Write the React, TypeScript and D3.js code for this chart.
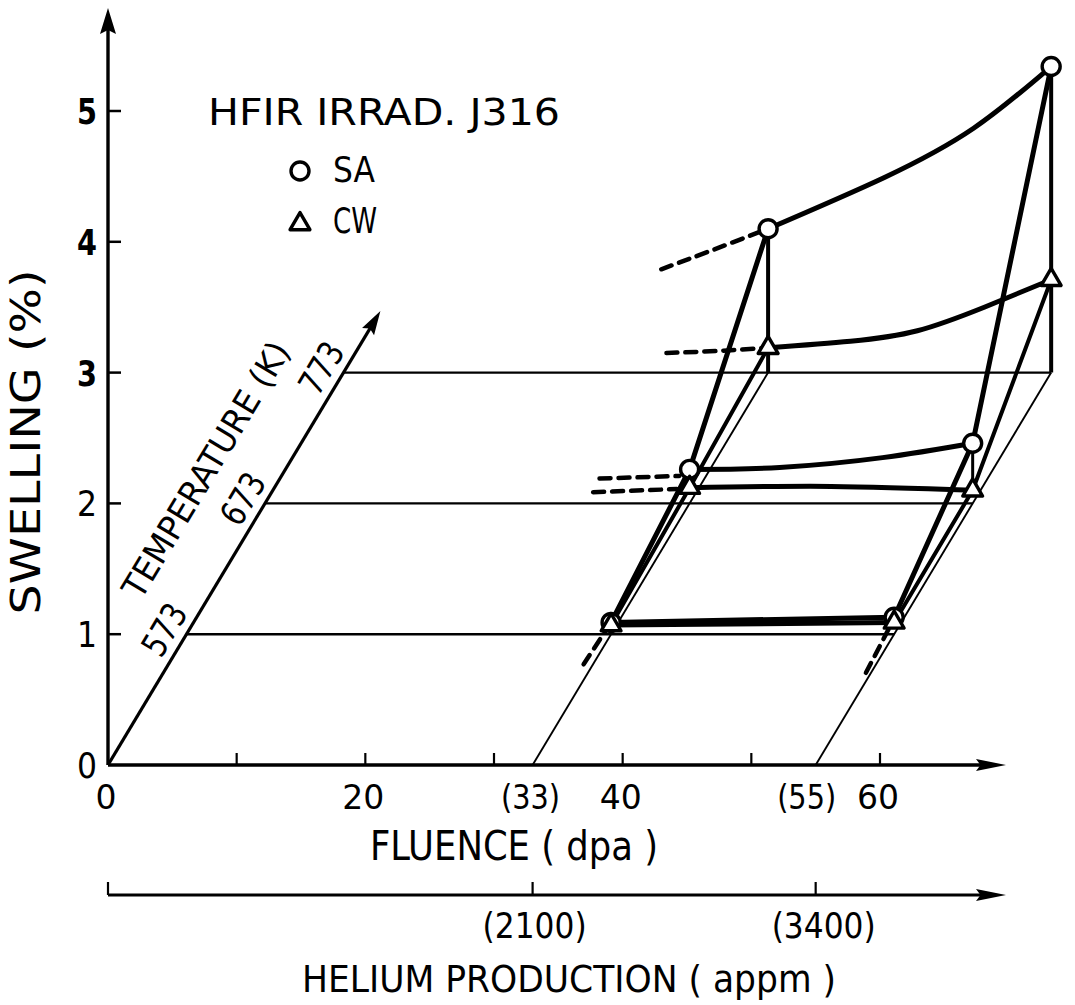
import React from 'react';
import * as d3 from 'd3';

const WIDTH = 1075;
const HEIGHT = 1005;

// axis ticks
const swellingTicks = [0, 1, 2, 3, 4, 5];
const fluenceTicks = [10, 20, 30, 40, 50, 60];
const fluenceLabelValues = [0, 20, 33, 40, 55, 60];
const fluenceLabels = ['0', '20', '(33)', '40', '(55)', '60'];
const temperatureTicks = [573, 673, 773];
const heliumLabels = ['(2100)', '(3400)'];
const heliumAtFluence = [33, 55];

// irradiation conditions
const temperatures = [573, 673, 773];
const fluences = [33, 55];

// swelling (%) above each temperature plane (573, 673, 773 K)
const saSwelling33 = [0.09, 0.26, 1.1];
const saSwelling55 = [0.13, 0.46, 2.34];
const cwSwelling33 = [0.07, 0.12, 0.19];
const cwSwelling55 = [0.09, 0.1, 0.71];

// trend curves along fluence at fixed temperature: [dpa, swelling %]
const saTrend573 = [[33, 0.09], [55, 0.13]];
const cwTrend573 = [[33, 0.07], [55, 0.09]];
const saTrend673 = [[33, 0.26], [40, 0.275], [48, 0.35], [55, 0.46]];
const cwTrend673 = [[33, 0.12], [44, 0.13], [55, 0.1]];
const saTrend773 = [[33, 1.1], [42, 1.49], [49, 1.87], [55, 2.34]];
const cwTrend773 = [[33, 0.19], [39.4, 0.24], [44.6, 0.32], [49.8, 0.5], [55, 0.71]];

// dashed extrapolations toward lower fluence: [dpa, swelling %]
const saExtrap673 = [[26, 0.19], [32.2, 0.21]];
const cwExtrap673 = [[25.5, 0.085], [32, 0.11]];
const saExtrap773 = [[24.7, 0.79], [28.5, 0.93], [33, 1.1]];
const cwExtrap773 = [[25.1, 0.15], [29, 0.165], [33, 0.19]];

// dashed extrapolations toward lower temperature: [K, swelling %]
const lowTempExtrap33 = [[538, 0.12], [573, 0.09]];
const lowTempExtrap55 = [[537, 0.065], [573, 0.12]];

const FONT = "'Liberation Sans Narrow', 'DejaVu Sans Condensed', 'DejaVu Sans', sans-serif";

// oblique projection: fluence to the right, temperature up-right, swelling up
const xFluence = d3.scaleLinear().domain([0, 60]).range([108, 880]);
const ySwelling = d3.scaleLinear().domain([0, 5]).range([765, 111]);
const tempDx = d3.scaleLinear().domain([473, 773]).range([0, 235.5]);
const tempDy = d3.scaleLinear().domain([473, 773]).range([0, -392.4]);

const proj = (dpa: number, T: number, s: number): [number, number] => [
  xFluence(dpa) + tempDx(T),
  ySwelling(s) + tempDy(T),
];

const fluenceLine = (T: number, pts: number[][], curve = d3.curveNatural) =>
  d3.line<number[]>()
    .x(d => proj(d[0], T, d[1])[0])
    .y(d => proj(d[0], T, d[1])[1])
    .curve(curve)(pts) || '';

const tempLine = (dpa: number, pts: number[][]) =>
  d3.line<number[]>()
    .x(d => proj(dpa, d[0], d[1])[0])
    .y(d => proj(dpa, d[0], d[1])[1])(pts) || '';

function arrowHead(tip: [number, number], from: [number, number], len: number, half: number) {
  const dx = tip[0] - from[0];
  const dy = tip[1] - from[1];
  const l = Math.hypot(dx, dy);
  const ux = dx / l, uy = dy / l;
  const bx = tip[0] - ux * len, by = tip[1] - uy * len;
  return `${tip[0]},${tip[1]} ${bx - uy * half},${by + ux * half} ${bx + ux * len * 0.15},${by + uy * len * 0.15} ${bx + uy * half},${by - ux * half}`;
}

// narrow lettering: digits ~21px, parentheses ~8.5px
const labelWidth = (s: string) =>
  s.split('').reduce((w, c) => w + (c === '(' || c === ')' ? 8.5 : 21), 0);

const triangle = d3.symbol().type(d3.symbolTriangle).size(170)() || '';

function Circle({ p }: { p: [number, number] }) {
  return <circle cx={p[0]} cy={p[1]} r={9} fill="white" stroke="black" strokeWidth={3.4} />;
}

function Tri({ p }: { p: [number, number] }) {
  return <path d={triangle} transform={`translate(${p[0]},${p[1]})`} fill="white" stroke="black" strokeWidth={3.4} strokeLinejoin="round" />;
}

export default function App() {
  const origin = proj(0, 473, 0);
  const tempAxisEnd = proj(0, 820, 0);
  const yAxisTop: [number, number] = [origin[0], 8];
  const xAxisEnd: [number, number] = [1006, origin[1]];
  const heliumY = 895;
  const heliumEnd: [number, number] = [1006, heliumY];

  const angle = (Math.atan2(tempDy(573) - tempDy(473), tempDx(573) - tempDx(473)) * 180) / Math.PI;
  const along = [Math.cos((angle * Math.PI) / 180), Math.sin((angle * Math.PI) / 180)];
  const up = [along[1], -along[0]];

  const saByFluence = [saSwelling33, saSwelling55];
  const cwByFluence = [cwSwelling33, cwSwelling55];

  const thick = 5;

  // temperature label position (mid axis, above)
  const tLabelBase = proj(0, 672, 0);
  const tLabel = [tLabelBase[0] + up[0] * 56, tLabelBase[1] + up[1] * 56];

  return (
    <svg width={WIDTH} height={HEIGHT} style={{ position: 'absolute', left: 0, top: 0, background: 'white' }}
      fontFamily={FONT}>
      {/* floor: constant temperature lines */}
      {temperatureTicks.map(T => {
        const a = proj(0, T, 0);
        const b = proj(55, T, 0);
        return <line key={`fl${T}`} x1={a[0]} y1={a[1]} x2={b[0]} y2={b[1]} stroke="black" strokeWidth={2.4} />;
      })}
      {/* floor: constant fluence lines */}
      {fluences.map(f => {
        const a = proj(f, 473, 0);
        const b = proj(f, 773, 0);
        return <line key={`ff${f}`} x1={a[0]} y1={a[1]} x2={b[0]} y2={b[1]} stroke="black" strokeWidth={1.9} />;
      })}

      {/* swelling axis */}
      <line x1={origin[0]} y1={origin[1]} x2={yAxisTop[0]} y2={yAxisTop[1] + 20} stroke="black" strokeWidth={3.4} />
      <polygon points={arrowHead(yAxisTop, origin, 26, 8)} fill="black" />
      {swellingTicks.filter(v => v > 0).map(v => (
        <line key={`yt${v}`} x1={origin[0]} x2={origin[0] + 13} y1={ySwelling(v)} y2={ySwelling(v)} stroke="black" strokeWidth={2.5} />
      ))}
      {swellingTicks.map(v => (
        <text key={`yl${v}`} x={97} y={ySwelling(v) + 13} fontSize={36} textAnchor="end"
          fontWeight={v >= 3 ? 'bold' : 'normal'} textLength={20} lengthAdjust="spacingAndGlyphs">{v}</text>
      ))}
      <text transform={`translate(40,442) rotate(-90)`} fontSize={40} textAnchor="middle"
        textLength={345} lengthAdjust="spacingAndGlyphs">SWELLING (%)</text>

      {/* fluence axis */}
      <line x1={origin[0]} y1={origin[1]} x2={xAxisEnd[0] - 20} y2={xAxisEnd[1]} stroke="black" strokeWidth={3.4} />
      <polygon points={arrowHead(xAxisEnd, origin, 30, 6)} fill="black" />
      {fluenceTicks.map(v => (
        <line key={`xt${v}`} x1={xFluence(v)} x2={xFluence(v)} y1={origin[1]} y2={origin[1] - 12} stroke="black" strokeWidth={2.2} />
      ))}
      {fluenceLabelValues.map((v, i) => (
        <text key={`xl${v}`} x={xFluence(v) + (v === 55 ? -9 : -2)} y={809} fontSize={34} textAnchor="middle"
          textLength={labelWidth(fluenceLabels[i])} lengthAdjust="spacingAndGlyphs">{fluenceLabels[i]}</text>
      ))}
      <text x={514} y={860} fontSize={40} textAnchor="middle" textLength={288} lengthAdjust="spacingAndGlyphs">FLUENCE ( dpa )</text>

      {/* helium axis */}
      <line x1={origin[0]} y1={heliumY} x2={heliumEnd[0] - 20} y2={heliumY} stroke="black" strokeWidth={3} />
      <polygon points={arrowHead(heliumEnd, [origin[0], heliumY], 30, 6)} fill="black" />
      <line x1={origin[0]} x2={origin[0]} y1={heliumY} y2={heliumY - 13} stroke="black" strokeWidth={2.2} />
      {heliumAtFluence.map((f, i) => (
        <g key={`he${f}`}>
          <line x1={xFluence(f)} x2={xFluence(f)} y1={heliumY} y2={heliumY - 13} stroke="black" strokeWidth={2.2} />
          <text x={xFluence(f) + (i === 0 ? 2 : 8)} y={938} fontSize={36} textAnchor="middle"
            textLength={104} lengthAdjust="spacingAndGlyphs">{heliumLabels[i]}</text>
        </g>
      ))}
      <text x={569} y={992} fontSize={38} textAnchor="middle" textLength={534} lengthAdjust="spacingAndGlyphs">HELIUM PRODUCTION ( appm )</text>

      {/* temperature axis */}
      <line x1={origin[0]} y1={origin[1]} x2={tempAxisEnd[0] - along[0] * 16} y2={tempAxisEnd[1] - along[1] * 16} stroke="black" strokeWidth={3.2} />
      <polygon points={arrowHead(tempAxisEnd, origin, 24, 7)} fill="black" />
      {temperatureTicks.map(T => {
        const p = proj(0, T, 0);
        const x = p[0] - along[0] * 7.5 + up[0] * 9;
        const y = p[1] - along[1] * 7.5 + up[1] * 9;
        return (
          <text key={`tl${T}`} transform={`translate(${x},${y}) rotate(${angle})`} fontSize={35} textAnchor="middle"
            textLength={54} lengthAdjust="spacingAndGlyphs">{T}</text>
        );
      })}
      <text transform={`translate(${tLabel[0]},${tLabel[1]}) rotate(${angle})`} fontSize={34} textAnchor="middle"
        textLength={292} lengthAdjust="spacingAndGlyphs">TEMPERATURE (K)</text>

      {/* dashed extrapolations */}
      <g fill="none" stroke="black" strokeWidth={4.5} strokeDasharray="11 8" strokeLinecap="round">
        <path d={fluenceLine(673, saExtrap673, d3.curveLinear)} />
        <path d={fluenceLine(673, cwExtrap673, d3.curveLinear)} />
        <path d={fluenceLine(773, saExtrap773)} />
        <path d={fluenceLine(773, cwExtrap773)} />
        <path d={tempLine(33, lowTempExtrap33)} />
        <path d={tempLine(55, lowTempExtrap55)} />
      </g>

      {/* fluence trend curves */}
      <g fill="none" stroke="black" strokeWidth={thick} strokeLinejoin="round">
        <path d={fluenceLine(573, saTrend573, d3.curveLinear)} />
        <path d={fluenceLine(573, cwTrend573, d3.curveLinear)} />
        <path d={fluenceLine(673, saTrend673)} />
        <path d={fluenceLine(673, cwTrend673)} />
        <path d={fluenceLine(773, saTrend773)} />
        <path d={fluenceLine(773, cwTrend773)} />
      </g>

      {/* temperature lines and drop lines */}
      <g fill="none" stroke="black" strokeWidth={thick} strokeLinejoin="round">
        {fluences.map((f, i) => (
          <g key={`tlines${f}`}>
            <path d={tempLine(f, temperatures.map((T, j) => [T, saByFluence[i][j]]))} />
            <path d={tempLine(f, temperatures.map((T, j) => [T, cwByFluence[i][j]]))} strokeWidth={4} />
            {[673, 773].map(T => {
              const j = temperatures.indexOf(T);
              const a = proj(f, T, saByFluence[i][j]);
              const b = proj(f, T, T === 773 ? 0 : cwByFluence[i][j]);
              return <line key={`drop${f}${T}`} x1={a[0]} y1={a[1]} x2={b[0]} y2={b[1]} strokeWidth={T === 773 ? 4 : 3} />;
            })}
          </g>
        ))}
      </g>

      {/* markers */}
      {fluences.map((f, i) => temperatures.map((T, j) => (
        <g key={`m${f}${T}`}>
          <Circle p={proj(f, T, saByFluence[i][j])} />
          <Tri p={proj(f, T, cwByFluence[i][j])} />
        </g>
      )))}

      {/* legend */}
      <text x={208} y={125} fontSize={38} textLength={352} lengthAdjust="spacingAndGlyphs">HFIR IRRAD. J316</text>
      <Circle p={[300, 171]} />
      <text x={333} y={182} fontSize={35} textLength={42} lengthAdjust="spacingAndGlyphs">SA</text>
      <Tri p={[300, 224]} />
      <text x={333} y={233} fontSize={35} textLength={44} lengthAdjust="spacingAndGlyphs">CW</text>
    </svg>
  );
}
